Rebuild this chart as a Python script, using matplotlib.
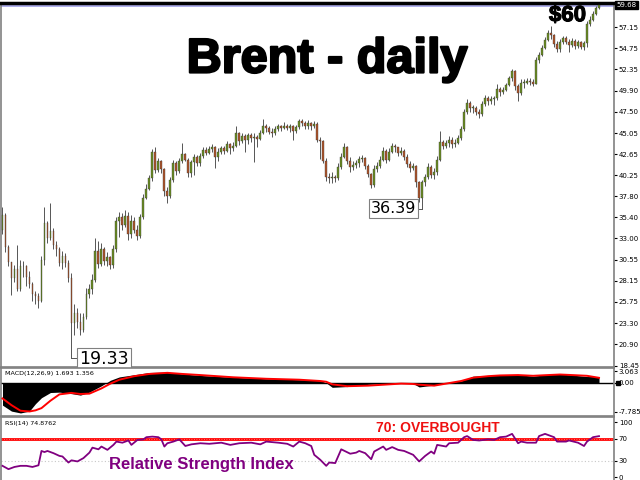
import matplotlib
matplotlib.use("Agg")
import matplotlib.pyplot as plt
import matplotlib.patheffects as pe
import numpy as np

# ---- daily Brent candles (one bar per trading day) ----
first_open = 34.0
closes = [
    35.7, 32.0, 30.3, 28.5, 29.5, 27.2, 29.8, 29.8, 28.6, 27.8,
    26.6, 26.4, 25.9, 30.5, 34.8, 33.0, 33.9, 32.3, 31.8, 30.2,
    31.0, 30.2, 28.5, 23.3, 24.5, 23.5, 22.5, 24.0, 26.6, 27.2,
    28.2, 31.6, 30.1, 31.8, 30.4, 30.9, 30.0, 31.8, 35.0, 35.4,
    34.5, 35.6, 33.5, 35.0, 34.0, 33.3, 35.5, 37.6, 38.6, 39.9,
    42.9, 40.8, 41.8, 40.9, 38.4, 37.9, 39.7, 41.6, 40.7, 41.8,
    42.6, 42.0, 40.5, 41.7, 42.3, 41.6, 42.4, 43.1, 42.8, 43.2,
    43.4, 42.3, 42.9, 43.3, 43.0, 43.8, 43.3, 43.6, 45.1, 44.1,
    44.7, 44.2, 44.8, 44.5, 44.6, 44.4, 45.0, 45.8, 45.6, 45.2,
    45.0, 45.5, 45.9, 45.6, 45.9, 45.6, 45.8, 45.3, 45.7, 46.4,
    46.2, 45.8, 46.2, 45.8, 46.1, 44.3, 44.1, 41.9, 40.0, 39.9,
    40.0, 39.9, 41.2, 42.3, 43.5, 41.9, 41.2, 41.4, 41.6, 42.1,
    42.2, 41.3, 40.4, 39.1, 40.9, 41.3, 42.0, 43.0, 42.0, 42.9,
    43.6, 43.4, 42.8, 43.0, 42.3, 41.5, 41.0, 41.3, 39.4, 37.6,
    39.4, 40.0, 41.2, 40.3, 40.6, 42.0, 44.0, 43.6, 43.9, 44.3,
    43.8, 43.9, 44.5, 45.5, 47.4, 48.5, 47.9, 47.9, 47.4, 47.2,
    48.4, 49.1, 48.7, 48.9, 49.0, 50.1, 49.7, 50.0, 50.5, 51.3,
    52.1, 50.4, 49.6, 50.8, 50.8, 51.0, 50.9, 50.6, 53.4, 54.0,
    54.8, 55.7, 56.5, 56.2, 55.2, 54.6, 55.4, 55.9, 55.5, 55.1,
    55.6, 55.0, 55.4, 54.9, 55.3, 57.5, 58.0, 58.7, 59.3, 59.68,
]
highs = [
    36.6, 35.9, 32.2, 30.3, 30.0, 32.2, 30.5, 30.4, 30.0, 29.3,
    28.0, 27.0, 26.8, 31.0, 36.6, 35.0, 37.1, 34.2, 32.7, 32.0,
    31.6, 31.3, 30.5, 29.0, 25.5, 25.0, 24.5, 24.5, 27.3, 27.8,
    28.9, 33.0, 32.7, 32.5, 32.0, 31.5, 31.0, 32.2, 35.5, 36.0,
    35.9, 36.2, 36.0, 35.7, 35.4, 34.5, 35.8, 38.1, 39.2, 40.3,
    43.2, 43.4, 42.2, 42.0, 41.0, 38.9, 40.0, 42.0, 41.8, 42.2,
    43.9, 42.8, 42.2, 42.0, 42.6, 42.5, 42.8, 43.5, 43.4, 43.6,
    43.8, 43.6, 43.3, 43.6, 43.6, 44.1, 43.9, 44.0, 45.8, 45.2,
    45.0, 44.9, 45.1, 45.0, 45.0, 44.8, 45.4, 46.6, 46.1, 45.8,
    45.6, 45.9, 46.1, 46.0, 46.3, 46.1, 46.1, 46.0, 46.0, 46.7,
    46.6, 46.4, 46.5, 46.3, 46.4, 46.3, 44.6, 44.3, 42.2, 40.5,
    40.6, 40.3, 41.6, 42.8, 43.9, 43.6, 42.3, 41.8, 42.0, 42.4,
    42.5, 42.3, 41.5, 40.5, 41.4, 41.7, 42.4, 43.4, 43.2, 43.3,
    43.9, 43.8, 43.5, 43.4, 43.2, 42.6, 41.8, 41.6, 41.4, 39.6,
    39.7, 40.4, 41.6, 41.4, 41.0, 42.4, 45.3, 44.3, 44.3, 44.7,
    44.6, 44.4, 44.8, 45.8, 47.8, 48.9, 48.7, 48.3, 48.1, 47.8,
    48.7, 49.4, 49.3, 49.3, 49.3, 50.6, 50.3, 50.3, 50.8, 51.6,
    52.4, 52.3, 50.6, 51.2, 51.2, 51.3, 51.3, 51.2, 53.7, 54.3,
    55.1, 56.0, 56.8, 57.3, 56.4, 55.6, 55.8, 56.1, 56.1, 55.8,
    55.9, 55.8, 55.7, 55.6, 55.6, 57.8, 58.4, 59.0, 59.6, 59.75,
]
lows = [
    33.5, 31.5, 29.8, 26.5, 28.0, 27.0, 27.0, 28.6, 27.6, 27.3,
    25.8, 25.5, 25.1, 25.7, 30.0, 32.5, 32.8, 31.8, 31.0, 29.8,
    29.5, 29.7, 28.0, 19.33, 22.0, 22.8, 22.0, 22.3, 23.8, 26.2,
    26.7, 28.0, 29.6, 29.8, 30.0, 29.8, 29.5, 29.6, 31.5, 33.2,
    34.0, 34.3, 32.8, 33.0, 33.6, 32.8, 33.0, 35.2, 37.5, 38.5,
    39.6, 40.5, 40.6, 40.5, 37.8, 37.0, 37.6, 39.5, 40.2, 40.5,
    41.6, 41.8, 40.0, 40.0, 40.2, 41.3, 41.3, 42.2, 42.5, 42.7,
    42.9, 41.0, 41.8, 42.6, 42.7, 42.9, 42.7, 43.0, 43.4, 43.7,
    43.9, 42.9, 43.8, 44.0, 41.7, 43.5, 44.2, 44.9, 45.2, 44.9,
    44.6, 44.8, 45.3, 45.3, 45.5, 45.4, 45.2, 44.3, 45.1, 45.5,
    45.9, 45.5, 45.5, 45.4, 45.6, 44.0, 42.1, 41.6, 39.6, 39.3,
    39.3, 39.4, 39.7, 40.9, 42.2, 41.5, 40.6, 40.8, 41.0, 41.2,
    41.7, 40.9, 40.0, 38.8, 38.9, 40.6, 41.1, 41.8, 41.6, 41.8,
    42.8, 42.9, 42.4, 42.5, 42.0, 41.2, 40.6, 40.8, 38.9, 37.2,
    36.39, 39.0, 39.8, 39.9, 39.8, 40.2, 41.8, 43.2, 43.3, 43.5,
    43.3, 43.5, 43.8, 44.3, 45.3, 47.2, 47.5, 47.3, 47.1, 46.8,
    47.0, 48.1, 48.3, 48.4, 48.3, 48.8, 49.3, 49.5, 49.8, 50.4,
    51.0, 50.0, 48.7, 49.4, 50.2, 50.6, 50.5, 50.4, 50.6, 53.1,
    53.9, 54.6, 55.6, 55.8, 54.9, 54.3, 54.3, 55.2, 55.2, 54.3,
    54.9, 54.7, 54.8, 54.6, 54.5, 54.9, 57.3, 57.8, 58.5, 59.2,
]
price_ticks = [57.15, 54.75, 52.35, 49.90, 47.50, 45.05, 42.65, 40.25, 37.80,
               35.40, 33.00, 30.55, 28.15, 25.75, 23.30, 20.90, 18.45]
last_price = 59.68
low_1, low_1_bar = 19.33, 23
low_2, low_2_bar = 36.39, 140

# ---- MACD(12,26,9) read at sample bars ----
macd_bars = [0, 3, 6, 9, 11, 13, 16, 19, 23, 26, 29, 33, 36, 39, 44, 49, 55, 60,
             66, 77, 88, 99, 106, 108, 110, 115, 122, 127, 133, 137, 139, 144,
             148, 153, 157, 162, 166, 172, 177, 182, 186, 190, 195, 199]
macd_main = [-6.0, -7.6, -8.1, -7.6, -5.6, -4.0, -2.6, -2.5, -2.9, -3.3, -2.5,
             -0.8, 0.7, 1.6, 2.2, 2.8, 2.9, 2.4, 2.0, 1.5, 1.1, 0.85, 0.66, 0.0,
             -1.2, -1.0, -0.4, -0.2, -0.05, -0.2, -1.1, -0.6, 0.0, 0.5, 1.8, 2.0,
             2.1, 2.2, 1.8, 2.25, 2.4, 2.1, 1.7, 1.69]
macd_signal = [-4.2, -6.0, -7.5, -7.7, -7.4, -6.8, -4.8, -3.1, -2.7, -3.0, -2.9,
               -1.5, -0.2, 0.85, 1.8, 2.4, 2.7, 2.4, 2.1, 1.5, 1.1, 0.85, 0.5,
               0.3, -0.4, -0.9, -0.75, -0.5, -0.2, -0.3, -0.5, -0.75, -0.2, 0.5,
               1.4, 1.8, 2.0, 2.1, 1.9, 2.1, 2.25, 2.1, 1.9, 1.36]

# ---- RSI(14) read at sample bars ----
rsi_bars = [0, 2, 4, 6, 8, 10, 12, 13, 14, 15, 17, 19, 20, 22, 23, 25, 27, 29,
            30, 32, 33, 35, 37, 38, 40, 42, 43, 45, 47, 48, 50, 52, 53, 54, 55,
            57, 59, 61, 63, 66, 69, 73, 76, 79, 83, 86, 88, 92, 95, 97, 99, 101,
            103, 104, 106, 108, 109, 111, 113, 116, 118, 119, 121, 123, 124,
            127, 128, 130, 132, 134, 137, 139, 141, 143, 144, 145, 148, 149,
            152, 154, 155, 157, 159, 162, 164, 166, 168, 170, 172, 173, 175,
            178, 179, 181, 183, 184, 185, 188, 189, 192, 194, 195, 197, 199]
rsi_vals = [21, 15, 19, 21, 21, 19, 22, 48, 46, 48, 44, 39, 38, 27, 31, 29, 35,
            45, 54, 51, 56, 50, 59, 65, 63, 67, 59, 68, 69, 73, 74, 73, 69, 56,
            62, 65, 69, 57, 60, 62, 61, 63, 59, 62, 63, 60, 65, 63, 61, 56, 65,
            62, 57, 41, 32, 21, 27, 26, 51, 43, 45, 48, 44, 33, 47, 56, 50, 55,
            50, 48, 41, 29, 39, 47, 43, 59, 56, 62, 63, 73, 75, 68, 67, 69, 68,
            73, 74, 79, 62, 65, 63, 63, 75, 79, 75, 73, 65, 65, 67, 63, 57, 65,
            73, 74.88]

BULL = "#6b8e23"
BEAR = "#b0552b"
WICK = "#555555"
FRAME = "#808080"

W, H = 640, 480
fig = plt.figure(figsize=(6.4, 4.8), dpi=100)
fig.patch.set_facecolor("white")


def px_axes(x0, y0, x1, y1):
    """Axes placed by pixel box (top-left origin)."""
    return fig.add_axes([x0 / W, 1 - y1 / H, (x1 - x0) / W, (y1 - y0) / H])


def style_panel(ax):
    for s in ax.spines.values():
        s.set_color(FRAME)
        s.set_linewidth(1.2)
    ax.yaxis.tick_right()
    ax.tick_params(axis="y", labelsize=5, length=2, pad=1.5, colors="black")
    ax.set_xticks([])
    ax.set_xlim(-0.5, 204)


# ---------------- main price panel ----------------
ax = px_axes(1, 3, 614, 367)
style_panel(ax)
ax.set_ylim(59.68 - 364 / 8.75 + 2 / 8.75, 59.68 + 2 / 8.75)
ax.spines["top"].set_color("black")
ax.spines["top"].set_linewidth(2.5)

n = len(closes)
idx = np.arange(n)
opens = np.array([first_open] + closes[:-1])
cl = np.array(closes)
up = cl >= opens
ax.vlines(idx, lows, highs, color=WICK, linewidth=0.7, zorder=2)
body_lo = np.minimum(opens, cl)
body_h = np.maximum(np.abs(cl - opens), 0.08)
ax.bar(idx, body_h, bottom=body_lo, width=0.62,
       color=np.where(up, BULL, BEAR), edgecolor="#333333", linewidth=0.25, zorder=3)

ax.axhline(last_price - 0.1, color="#a0a0e8", linewidth=1.2, zorder=1)
ax.set_yticks(price_ticks)
ax.set_yticklabels([f"{t:.2f}" for t in price_ticks])
ax.text(1.004, last_price, f"{last_price:.2f}", transform=ax.get_yaxis_transform(),
        fontsize=5, color="white", va="center", ha="left",
        bbox=dict(boxstyle="square,pad=0.15", fc="black", ec="black"), clip_on=False)

# low annotations
ax.plot([low_1_bar, low_1_bar + 2.3], [low_1, low_1], color="#555555", lw=0.7, zorder=4)
ax.text(low_1_bar + 2.6, low_1 - 0.15, f"{low_1:.2f}", fontsize=12.5, ha="left", va="center",
        bbox=dict(boxstyle="square,pad=0.12", fc="white", ec="#808080", lw=0.8),
        zorder=5, clip_on=False)
ax.plot([low_2_bar - 1.6, low_2_bar], [low_2, low_2], color="#555555", lw=0.7, zorder=4)
ax.text(low_2_bar - 1.9, low_2, f"{low_2:.2f}", fontsize=11.5, ha="right", va="center",
        bbox=dict(boxstyle="square,pad=0.12", fc="white", ec="#808080", lw=0.8), zorder=5)

ax.text(188.5, 58.45, "$60", fontsize=16, fontweight="bold", ha="center", va="center",
        family="Liberation Sans", zorder=6,
        path_effects=[pe.withStroke(linewidth=0.8, foreground="black")])
fig.text(327 / W, 1 - 60 / H, "Brent - daily", fontsize=35, fontweight="bold",
         family="Liberation Sans", ha="center", va="center",
         path_effects=[pe.withStroke(linewidth=1.6, foreground="black")])

# ---------------- MACD panel ----------------
am = px_axes(1, 368, 614, 416)
style_panel(am)
am.set_ylim(-8.92, 4.0)
am.axhline(0, color="black", linewidth=1.0, zorder=1)
am.fill_between(macd_bars, 0, macd_main, color="black", linewidth=0, zorder=2)
am.plot(macd_bars, macd_signal, color="#ff0000", linewidth=1.4, zorder=3)
am.set_yticks([3.063, 0.0, -7.785])
am.set_yticklabels(["3.063", "0.00", "-7.785"])
am.plot([1.006], [0], marker="s", ms=3.2, color="black", transform=am.get_yaxis_transform(),
        clip_on=False)
am.text(0.006, 0.88, "MACD(12,26,9) 1.693 1.356", transform=am.transAxes,
        fontsize=4.6, va="center", ha="left")

# ---------------- RSI panel ----------------
ar = px_axes(1, 417, 614, 481)
style_panel(ar)
ar.set_ylim(-6.5, 109.6)
ar.axhline(70, color="#ff0000", linewidth=2.0, zorder=1)
ar.axhline(70, color="#ff9090", linewidth=0.6, linestyle=(0, (1, 2)), zorder=1)
ar.axhline(30, color="#c8c8c8", linewidth=0.8, linestyle=(0, (1, 2)), zorder=1)
ar.plot(rsi_bars, rsi_vals, color="#800080", linewidth=1.3, zorder=3)
ar.set_yticks([100, 70, 30, 0])
ar.text(0.006, 0.9, "RSI(14) 74.8762", transform=ar.transAxes,
        fontsize=4.6, va="center", ha="left")
ar.text(145.3, 89, "70: OVERBOUGHT", color="#ee1111", fontsize=10, fontweight="bold",
        family="Liberation Sans", ha="center", va="center", zorder=4)
ar.text(66.3, 24, "Relative Strength Index", color="#800080", fontsize=12,
        fontweight="bold", family="Liberation Sans", ha="center", va="center", zorder=4)

fig.savefig("out.png", dpi=100)
